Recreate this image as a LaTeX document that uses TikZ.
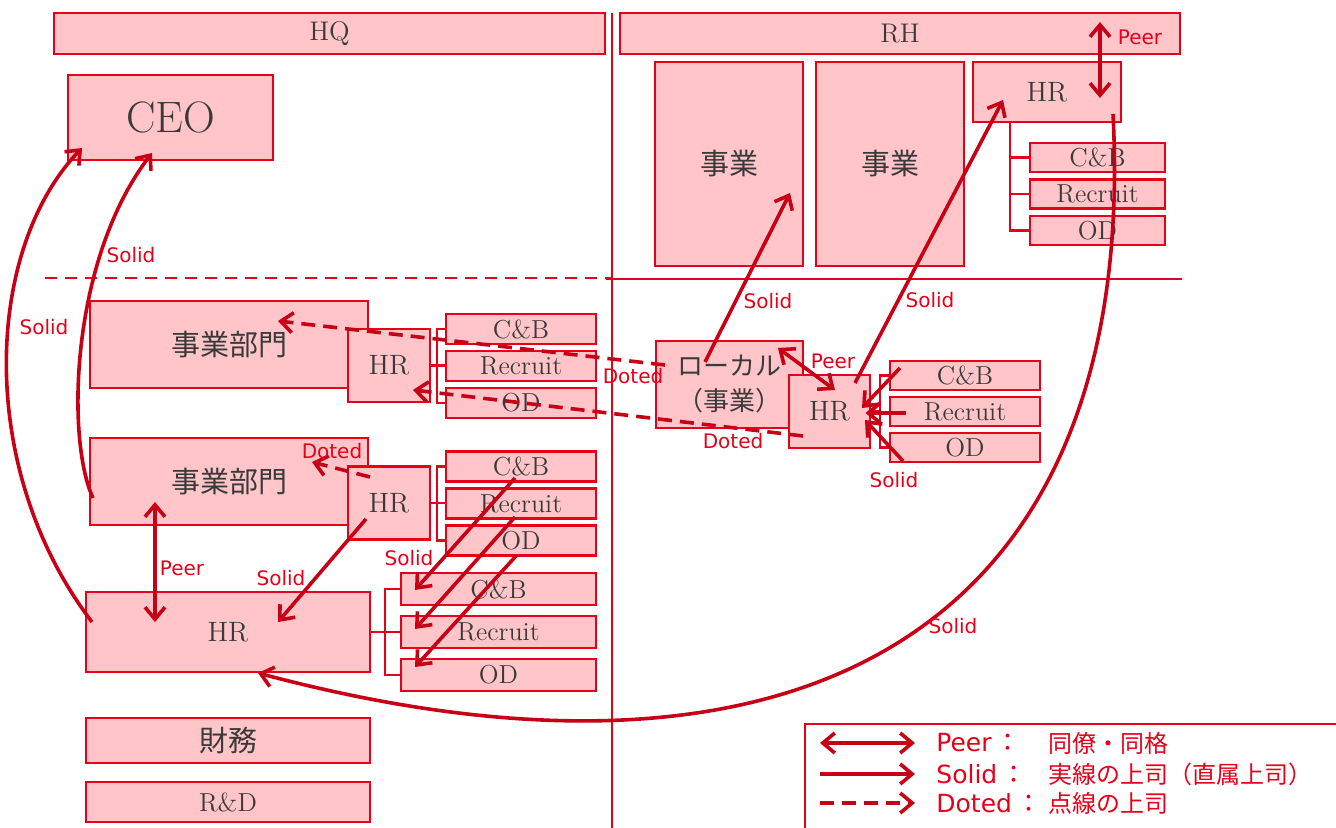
\documentclass[tikz,border=0pt]{standalone}
\usepackage{fontspec}
\usepackage{xcolor}
\usepackage{tikz}
\usetikzlibrary{arrows.meta, positioning, calc}
\newfontfamily\jpfont{Noto Sans CJK JP}
\newfontfamily\lblfont{DejaVu Sans}
\definecolor{cpink}{RGB}{255,197,201}
\definecolor{cred}{RGB}{230,0,25}
\definecolor{cdark}{RGB}{200,0,22}
\definecolor{ctext}{RGB}{58,58,58}
\newcommand{\hdfont}{\fontsize{13.5}{16}\selectfont}
\newcommand{\ceofont}{\fontsize{22}{26}\selectfont}
\newcommand{\hrfont}{\fontsize{14}{17}\selectfont}
\newcommand{\subfont}{\fontsize{13}{15}\selectfont}
\newcommand{\jpbox}{\jpfont\fontsize{14.5}{17.5}\selectfont}
\newcommand{\jploc}{\jpfont\fontsize{13}{17.5}\selectfont}

\begin{document}
\begin{tikzpicture}[
  x=0.5pt, y=-0.5pt,
  box/.style 2 args = {rectangle, draw=cred, fill=cpink, line width=1.2pt,
                       inner sep=0pt, outer sep=0pt, minimum width=#1*0.5pt,
                       minimum height=#2*0.5pt, text=ctext},
  sub/.style 2 args = {box={#1}{#2}, font=\subfont},
  sep/.style    = {cred, line width=1.1pt},
  brk/.style    = {cred, line width=1.1pt},
  arr/.style    = {cdark, line width=1.8pt,
                   -{Straight Barb[length=6pt,width=10pt]}},
  peer/.style   = {cdark, line width=1.8pt,
                   {Straight Barb[length=6pt,width=10pt]}-{Straight Barb[length=6pt,width=10pt]}},
  dotarr/.style = {arr, dash pattern=on 7pt off 4pt},
  lbl/.style    = {font=\lblfont\fontsize{10}{12}\selectfont, text=cred, inner sep=0pt},
  lgtxt/.style  = {font=\lblfont\fontsize{12.5}{15}\selectfont, text=cred, inner sep=0pt, anchor=west},
  lgjp/.style   = {font=\jpfont\fontsize{12}{15}\selectfont, text=cred, inner sep=0pt, anchor=west},
]
\useasboundingbox (0,0) rectangle (1336,828);

%% --- headers ---
\node[box={551}{41}, font=\hdfont] (hq) at (329.5,33.5) {HQ};
\node[box={560}{41}, font=\hdfont] (rh) at (900,33.5)   {RH};

%% --- dividers ---
\draw[sep] (612,13) -- (612,828);
\draw[sep, dash pattern=on 6pt off 4pt] (45,278) -- (612,278);
\draw[sep] (606,279) -- (1182,279);

%% --- HQ ---
\node[box={205}{85}, font=\ceofont] (ceo) at (170.5,117.5) {CEO};

\node[box={278}{87}, font=\jpbox] (deptA) at (229,344.5) {事業部門};
\node[box={82}{73}, font=\hrfont] (hrA)   at (389,365.5) {HR};
\node[sub={150}{30}]                   (cbA) at (521,329) {C\&B};
\node[sub={150}{30}, below=3.5pt of cbA] (rcA) {Recruit};
\node[sub={150}{30}, below=3.5pt of rcA] (odA) {OD};

\node[box={278}{87}, font=\jpbox] (deptB) at (229,481.5) {事業部門};
\node[box={82}{73}, font=\hrfont] (hrB)   at (389,503) {HR};
\node[sub={150}{30}]                   (cbB) at (521,466.5) {C\&B};
\node[sub={150}{30}, below=3.5pt of cbB] (rcB) {Recruit};
\node[sub={150}{30}, below=3.5pt of rcB] (odB) {OD};

\node[box={284}{80}, font=\hrfont] (hqhr) at (228,632) {HR};
\node[sub={195}{32}]                   (cbC) at (498.5,589) {C\&B};
\node[sub={195}{32}, below=5.5pt of cbC] (rcC) {Recruit};
\node[sub={195}{32}, below=5.5pt of rcC] (odC) {OD};

\node[box={284}{45}, font=\jpbox] (fin) at (228,740.5) {財務};
\node[sub={284}{40}]              (rnd) at (228,802)   {R\&D};

%% --- RH ---
\node[box={148}{204}, font=\jpbox] (bizA) at (729,164) {事業};
\node[box={148}{204}, font=\jpbox] (bizB) at (890,164) {事業};
\node[box={148}{60}, font=\hrfont] (rhhr) at (1047,92) {HR};
\node[sub={135}{29}]                     (rhcb) at (1097.5,157.5) {C\&B};
\node[sub={135}{29}, below=3.75pt of rhcb] (rhrc) {Recruit};
\node[sub={135}{29}, below=3.75pt of rhrc] (rhod) {OD};

\node[box={147}{87}, font=\jploc, align=center] (loc) at (729.5,384.5) {ローカル\\（事業）};
\node[box={81}{73}, font=\hrfont] (lochr) at (829.5,411.5) {HR};
\node[sub={150}{29}]                   (lcb) at (965,375.5) {C\&B};
\node[sub={150}{29}, below=3.5pt of lcb] (lrc) {Recruit};
\node[sub={150}{29}, below=3.5pt of lrc] (lod) {OD};

%% --- brackets ---
\draw[brk] (hrA.east) -- ++(7,0) |- (cbA.west);
\draw[brk] (hrA.east) -- ++(7,0) |- (odA.west);
\draw[brk] (hrA.east) -- (hrA.east -| rcA.west);
\draw[brk] (hrB.east) -- ++(7,0) |- (cbB.west);
\draw[brk] (hrB.east) -- ++(7,0) |- (odB.west);
\draw[brk] (hrB.east) -- (hrB.east -| rcB.west);
\draw[brk] (hqhr.east) -- ++(15,0) |- (cbC.west);
\draw[brk] (hqhr.east) -- ++(15,0) |- (odC.west);
\draw[brk] (hqhr.east) -- (hqhr.east -| rcC.west);
\draw[brk] ($(rhhr.south west)+(37,0)$) |- (rhcb.west);
\draw[brk] ($(rhhr.south west)+(37,0)$) |- (rhrc.west);
\draw[brk] ($(rhhr.south west)+(37,0)$) |- (rhod.west);
\draw[brk] (lochr.east) -- ++(10,0) |- (lcb.west);
\draw[brk] (lochr.east) -- ++(10,0) |- (lod.west);

%% --- arrows ---
\draw[peer] ($(rh)+(200,-11.5)$) -- ($(rhhr)+(53,6)$);
\draw[arr] ($(loc)+(-24.5,-22.5)$) -- ($(bizA)+(61,29)$);
\draw[arr] ($(lochr)+(25.5,-28.5)$) -- ($(rhhr)+(-44,8)$);
\draw[peer] ($(loc)+(48.5,-36.5)$) -- ($(lochr)+(5.5,-21.5)$);
\draw[arr] ($(lcb)+(-65,-7.5)$) -- ($(lochr)+(32.5,-3.5)$);
\draw[arr] ($(lrc)+(-59,1.5)$)  -- ($(lochr)+(36,1.5)$);
\draw[arr] ($(lod)+(-62,13.5)$) -- ($(lochr)+(35.5,8.5)$);
\draw[dotarr] ($(loc)+(-64.5,-19.5)$) -- ($(deptA)+(49,-23.5)$);
\draw[dotarr] ($(lochr)+(-26.5,24.5)$) -- ($(hrA)+(24,24.5)$);
\draw[dotarr] ($(hrB)+(-19,-26)$) -- ($(deptB)+(83,-19.5)$);
\draw[arr] ($(hrB)+(-23,16)$) -- ($(hqhr)+(50,-10)$);
\draw[arr] ($(cbB)+(-6,11.5)$) -- ($(cbC)+(-83.5,1)$);
\draw[arr] ($(rcB)+(-6,13.5)$) -- ($(rcC)+(-83.5,-3)$);
\draw[arr] ($(odB)+(-5,15.5)$) -- ($(odC)+(-83.5,-8)$);
\draw[peer] ($(deptB)+(-74,20.5)$) -- ($(hqhr)+(-73,-10)$);
\draw[arr] ($(hqhr)+(-136,-10)$) .. controls (-24,470) and (-16,250) .. ($(ceo)+(-88.5,30.5)$);
\draw[arr] ($(deptB)+(-136,16.5)$) .. controls (66,440) and (70,260) .. ($(ceo)+(-18.5,35.5)$);
\draw[arr] ($(rhhr)+(66,22)$) .. controls (1140,640) and (790,815) .. ($(hqhr)+(30,41)$);

%% --- labels ---
\node[lbl] (lPeerRH)  at (1140,37) {Peer};
\node[lbl] (lSolBiz)  at (768,301) {Solid};
\node[lbl] (lSolRH)   at (930,300) {Solid};
\node[lbl] (lPeerLoc) at (833,361) {Peer};
\node[lbl] (lSolLoc)  at (894,480) {Solid};
\node[lbl] (lDotA)    at (633,376) {Doted};
\node[lbl] (lDotB)    at (733,441) {Doted};
\node[lbl] (lDotC)    at (332,451) {Doted};
\node[lbl] (lSolHRB)  at (281,578) {Solid};
\node[lbl] (lSolSub)  at (409,558) {Solid};
\node[lbl] (lPeerHQ)  at (182,568) {Peer};
\node[lbl] (lSolCeoB) at (131,255) {Solid};
\node[lbl] (lSolCeoA) at (44,327)  {Solid};
\node[lbl] (lSolArc)  at (953,626) {Solid};

%% --- legend ---
\node[draw=cred, line width=1.2pt, anchor=north west, minimum width=300pt,
      minimum height=60pt, inner sep=0pt] (legend) at (804,723) {};
\coordinate (lgPa) at (820,743);  \coordinate (lgPb) at (915,743);
\coordinate (lgSa) at (820,774);  \coordinate (lgSb) at (915,774);
\coordinate (lgDa) at (820,803);  \coordinate (lgDb) at (915,803);
\draw[peer]   (lgPa) -- (lgPb);
\draw[arr]    (lgSa) -- (lgSb);
\draw[dotarr] (lgDa) -- (lgDb);
\node[lgtxt] (lgPeer)  at (936,743) {Peer\,{\jpfont ：}};
\node[lgtxt] (lgSolid) at (936,774) {Solid\,{\jpfont ：}};
\node[lgtxt] (lgDoted) at (936,803) {Doted\,{\jpfont ：}};
\node[lgjp] (lgPeerJ)  at (1048,743) {同僚・同格};
\node[lgjp] (lgSolidJ) at (1048,774) {実線の上司（直属上司）};
\node[lgjp] (lgDotedJ) at (1048,803) {点線の上司};

\end{tikzpicture}
\end{document}
